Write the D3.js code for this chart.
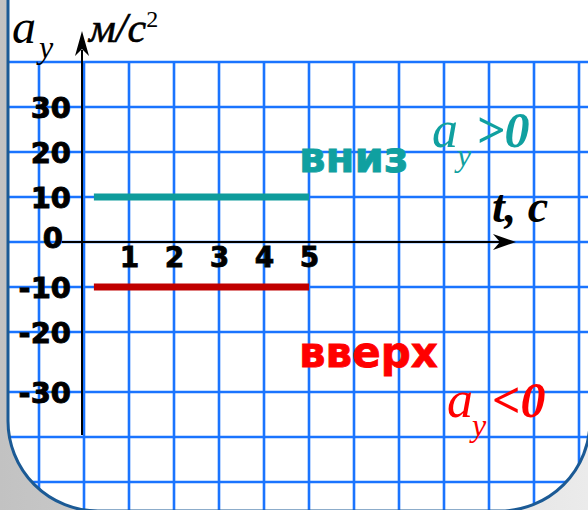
<!DOCTYPE html>
<html>
<head>
<meta charset="utf-8">
<script src="https://cdn.jsdelivr.net/npm/d3@7"></script>
<style>
  body { margin: 0; background: #fff; }
  svg { display: block; }
</style>
</head>
<body>
<div id="chart"></div>
<script>
// données
var tTicks = [1, 2, 3, 4, 5];
var aTicks = [30, 20, 10, 0, -10, -20, -30];
var gridT = [-1, 0, 1, 2, 3, 4, 5, 6, 7, 8, 9, 10, 11];
var gridA = [40, 30, 20, 10, 0, -10, -20, -30, -40, -50];

var tDown = [0.22, 5];
var aDown = [10, 10];
var tUp = [0.22, 5];
var aUp = [-10, -10];

var W = 588, H = 510;

var x = d3.scaleLinear().domain([0, 1]).range([84, 129]);
// la case de -30 est plus haute sur le dessin
var y = d3.scaleLinear().domain([40, -20, -30, -50]).range([62, 332, 392, 482]);

var svg = d3.select("#chart").append("svg")
  .attr("width", W)
  .attr("height", H);

var defs = svg.append("defs");
var grad = defs.append("linearGradient").attr("id", "bg");
grad.append("stop").attr("offset", "0%").attr("stop-color", "#c2c2c2");
grad.append("stop").attr("offset", "100%").attr("stop-color", "#ebebeb");

defs.append("clipPath").attr("id", "paper")
  .append("rect")
  .attr("x", 8).attr("y", -200)
  .attr("width", 582).attr("height", 711)
  .attr("rx", 90).attr("ry", 90);

svg.append("rect")
  .attr("width", W).attr("height", H)
  .attr("fill", "url(#bg)");

svg.append("rect")
  .attr("x", 8).attr("y", -200)
  .attr("width", 582).attr("height", 711)
  .attr("rx", 90).attr("ry", 90)
  .attr("fill", "#fff");

// quadrillage
var grid = svg.append("g").attr("clip-path", "url(#paper)");

grid.selectAll(".vline")
  .data(gridT)
  .enter()
  .append("line")
  .attr("class", "vline")
  .attr("x1", function(d) { return x(d); })
  .attr("x2", function(d) { return x(d); })
  .attr("y1", y(40))
  .attr("y2", H)
  .attr("stroke", "#1a74ff")
  .attr("stroke-width", 2.6);

grid.selectAll(".hline")
  .data(gridA)
  .enter()
  .append("line")
  .attr("class", "hline")
  .attr("x1", 0)
  .attr("x2", W)
  .attr("y1", function(d) { return y(d); })
  .attr("y2", function(d) { return y(d); })
  .attr("stroke", "#1a74ff")
  .attr("stroke-width", 2.6);

// bordure
svg.append("rect")
  .attr("x", 8).attr("y", -200)
  .attr("width", 582).attr("height", 711)
  .attr("rx", 90).attr("ry", 90)
  .attr("fill", "none")
  .attr("stroke", "#1b5a95")
  .attr("stroke-width", 3);

// axes
svg.append("line")
  .attr("x1", x(0) - 2).attr("x2", x(0) - 2)
  .attr("y1", 50).attr("y2", 435)
  .attr("stroke", "#000").attr("stroke-width", 2);

svg.append("line")
  .attr("x1", 62).attr("x2", 500)
  .attr("y1", y(0)).attr("y2", y(0))
  .attr("stroke", "#000").attr("stroke-width", 2.2);

// flèches
var ax = x(0) - 2, ay = 31;
svg.append("path")
  .attr("d", "M" + ax + "," + ay + " L" + (ax + 7) + "," + (ay + 25) + " L" + ax + "," + (ay + 18) + " L" + (ax - 7) + "," + (ay + 25) + "Z")
  .attr("fill", "#000");

var bx = 516, by = y(0);
svg.append("path")
  .attr("d", "M" + bx + "," + by + " L" + (bx - 23) + "," + (by - 8) + " L" + (bx - 16) + "," + by + " L" + (bx - 23) + "," + (by + 8) + "Z")
  .attr("fill", "#000");

// graduations
var yAxis = svg.append("g")
  .attr("transform", "translate(71,0)")
  .call(d3.axisLeft(y).tickValues(aTicks).tickSize(0).tickPadding(0).tickFormat(d3.format("d")));
yAxis.select(".domain").remove();
yAxis.selectAll("text")
  .attr("font-family", "DejaVu Sans")
  .attr("font-weight", "bold")
  .attr("font-size", 29)
  .attr("fill", "#000")
  .attr("stroke", "#000")
  .attr("stroke-width", 0.9)
  .attr("x", function(d) { return d == 0 ? -8 : 0; })
  .attr("dy", function(d) { return d == 0 ? "0.2em" : "0.36em"; })
  .text(function(d) { return d < 0 ? "-" + Math.abs(d) : d; });

var xAxis = svg.append("g")
  .attr("transform", "translate(0," + y(0) + ")")
  .call(d3.axisBottom(x).tickValues(tTicks).tickSize(0).tickPadding(0).tickFormat(d3.format("d")));
xAxis.select(".domain").remove();
xAxis.selectAll("text")
  .attr("font-family", "DejaVu Sans")
  .attr("font-weight", "bold")
  .attr("font-size", 28)
  .attr("fill", "#000")
  .attr("stroke", "#000")
  .attr("stroke-width", 0.8)
  .attr("y", 25)
  .attr("dy", 0);

// lignes
var line = d3.line()
  .x(function(d) { return x(d[0]); })
  .y(function(d) { return y(d[1]); });

svg.append("path")
  .datum(d3.zip(tDown, aDown))
  .attr("d", line)
  .attr("fill", "none")
  .attr("stroke", "#0f9c9c")
  .attr("stroke-width", 7);

svg.append("path")
  .datum(d3.zip(tUp, aUp))
  .attr("d", line)
  .attr("fill", "none")
  .attr("stroke", "#c00000")
  .attr("stroke-width", 7);

// titres des axes
var serif = "Liberation Serif";

var ayLabel = svg.append("text")
  .attr("font-family", serif).attr("font-style", "italic");
ayLabel.append("tspan").attr("x", 12).attr("y", 43).attr("font-size", 48).text("a");
ayLabel.append("tspan").attr("x", 39).attr("y", 58).attr("font-size", 32).text("y");

var unit = svg.append("text")
  .attr("font-family", serif).attr("font-style", "italic")
  .attr("x", 89).attr("y", 42).attr("font-size", 42)
  .attr("stroke", "#000").attr("stroke-width", 0.6)
  .text("м/с");
unit.append("tspan").attr("font-size", 24).attr("font-style", "normal").attr("stroke-width", 0).attr("dy", -15).text("2");

svg.append("text")
  .attr("font-family", serif).attr("font-style", "italic").attr("font-weight", "bold")
  .attr("x", 492).attr("y", 222).attr("font-size", 46)
  .text("t, c");

// annotations
svg.append("text")
  .attr("font-family", "DejaVu Sans").attr("font-weight", "bold")
  .attr("x", 299).attr("y", 172).attr("font-size", 42)
  .attr("fill", "#10a0a0")
  .attr("stroke", "#10a0a0").attr("stroke-width", 0.8)
  .text("вниз");

svg.append("text")
  .attr("font-family", "DejaVu Sans").attr("font-weight", "bold")
  .attr("x", 299).attr("y", 367).attr("font-size", 42)
  .attr("fill", "#ff0000")
  .attr("stroke", "#ff0000").attr("stroke-width", 0.8)
  .text("вверх");

var pos = svg.append("text")
  .attr("font-family", serif).attr("font-style", "italic").attr("fill", "#10a0a0");
pos.append("tspan").attr("x", 432).attr("y", 147).attr("font-size", 52).text("a");
pos.append("tspan").attr("x", 457).attr("y", 166).attr("font-size", 32).text("y");
pos.append("tspan").attr("x", 476).attr("y", 147).attr("font-size", 50).attr("font-weight", "bold").text(">0");

var neg = svg.append("text")
  .attr("font-family", serif).attr("font-style", "italic").attr("fill", "#ff0000");
neg.append("tspan").attr("x", 447).attr("y", 417).attr("font-size", 52).text("a");
neg.append("tspan").attr("x", 472).attr("y", 436).attr("font-size", 32).text("y");
neg.append("tspan").attr("x", 492).attr("y", 417).attr("font-size", 50).attr("font-weight", "bold").text("<0");
</script>
</body>
</html>
